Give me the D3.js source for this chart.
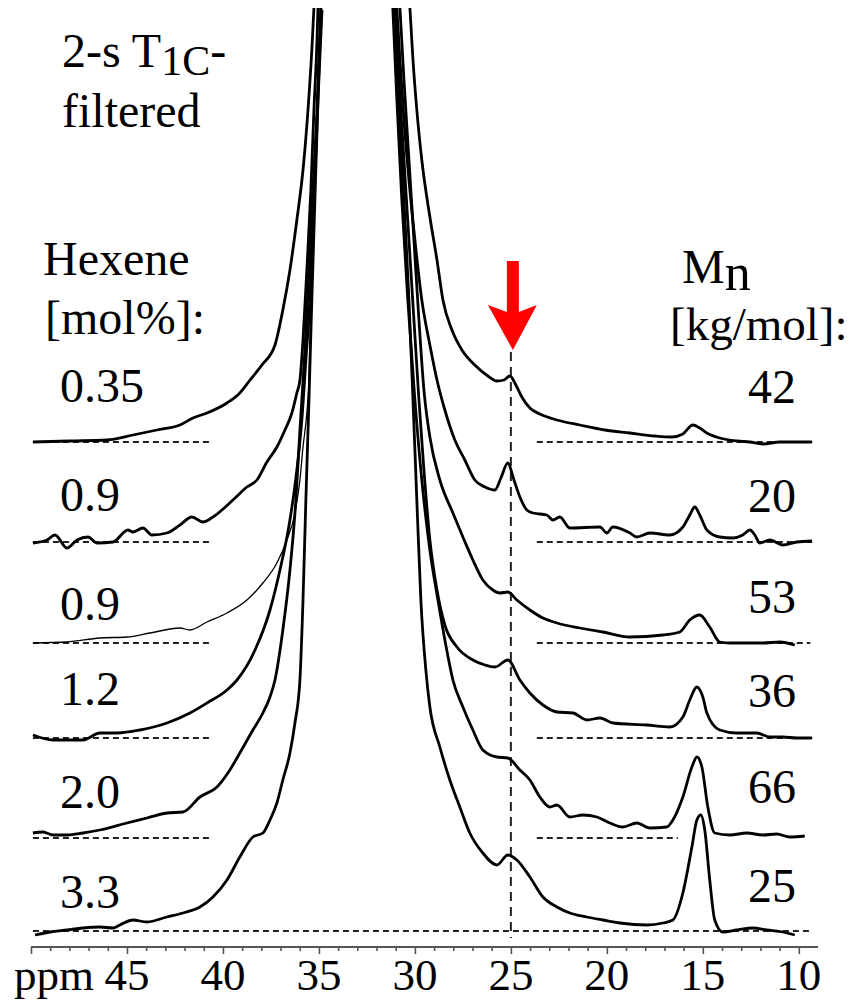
<!DOCTYPE html>
<html>
<head>
<meta charset="utf-8">
<script src="https://cdn.jsdelivr.net/npm/d3@7/dist/d3.min.js"></script>
<style>
  html, body { margin: 0; padding: 0; background: #fff; }
</style>
</head>
<body>
<div id="chart"></div>
<script>
// ---- data: chemical shift (ppm) vs. intensity (a.u.) ----
const hexeneLabels = ["0.35", "0.9", "0.9", "1.2", "2.0", "3.3"];
const mnLabels = ["42", "20", "53", "36", "66", "25"];
const traceOffsets = [489, 389, 288, 193, 93, 0];
const majorTicks = [50, 45, 40, 35, 30, 25, 20, 15, 10];
const tickLabels = [45, 40, 35, 30, 25, 20, 15, 10];
const markerPpm = 25;
const leftBaseRange = [49.9, 40.6];
const rightBaseRanges = [[23.65, 9.3], [23.65, 9.3], [23.65, 9.4], [23.65, 9.3], [23.65, 16.3], [49.9, 9.3]];

const trace1 = [
  [49.90,0],[47.97,1],[46.04,2],[44.69,7],[43.44,12],[42.24,17],[41.56,24],[40.83,29],[39.79,39],
  [39.12,49],[38.59,62],[37.97,77],[37.29,97],[36.88,132],[36.51,172],[36.15,222],[35.83,272],
  [35.57,332],[35.37,392],[35.26,434],
  [30.26,434],[30.10,382],[29.90,332],[29.64,282],[29.22,225],[28.85,182],[28.54,142],[28.07,112],
  [27.55,92],[26.88,77],[26.20,66],[25.73,61],[25.36,62],[25.05,66],[24.74,57],[24.43,45],[24.01,34],
  [23.49,28],[22.60,22],[21.41,17],[20.10,12],[18.80,9],[17.50,6],[16.61,5],[16.04,8],[15.52,17],
  [15.16,14],[14.79,9],[14.12,4],[13.23,1],[12.55,0],[11.88,-2],[10.99,0],[10.21,0],[9.32,0]
];
const trace2 = [
  [49.90,-1],[49.17,2],[48.75,7],[48.13,-6],[47.60,2],[47.03,5],[46.56,-1],[45.73,0],[44.95,12],
  [44.69,10],[44.17,14],[43.70,7],[42.92,9],[42.24,17],[41.62,25],[41.04,20],[40.52,25],[39.48,42],
  [38.75,55],[38.23,62],[37.71,80],[37.19,95],[36.77,112],[36.41,129],[36.15,149],[35.99,162],
  [35.83,202],[35.63,272],[35.42,352],[35.26,432],[35.10,502],[35.05,534],
  [30.94,534],[30.78,482],[30.57,422],[30.31,362],[30.00,302],[29.64,242],[29.22,197],[28.85,162],
  [28.44,132],[27.92,102],[27.40,82],[26.88,62],[26.35,55],[25.83,52],[25.52,64],[25.16,79],
  [24.84,62],[24.53,45],[24.17,32],[23.85,29],[23.13,27],[22.81,22],[22.45,25],[21.93,14],[20.36,15],
  [20.00,9],[19.69,15],[18.80,9],[18.44,5],[17.76,9],[16.72,7],[16.04,15],[15.68,27],[15.42,35],
  [15.16,27],[14.79,12],[14.12,5],[13.44,4],[12.92,7],[12.55,12],[12.29,7],[12.03,-1],[11.51,2],
  [10.83,-3],[10.10,0],[9.32,1]
];
const trace3 = [
  [49.90,0],[48.13,1],[46.41,5],[45.00,6],[43.80,10],[42.24,15],[41.72,13],[40.83,21],[39.79,30],
  [38.75,43],[37.92,60],[37.19,80],[36.67,103],[36.25,130],[35.99,163],[35.83,196],[35.63,230],
  [35.52,263],[35.42,343],[35.26,443],[35.10,543],[34.90,635],
  [30.78,635],[30.57,563],[30.31,483],[30.05,403],[29.79,323],[29.53,253],[29.22,206],[28.70,163],
  [28.02,130],[27.50,106],[26.98,83],[26.46,63],[25.94,53],[25.57,50],[25.16,51],[24.69,43],
  [24.01,33],[23.33,25],[22.60,20],[21.41,15],[20.21,11],[18.80,6],[17.08,8],[16.20,11],[15.68,23],
  [15.16,28],[14.64,16],[14.12,1],[13.59,0],[11.88,0],[10.99,1],[10.21,-2]
];
const trace4 = [
  [49.90,3],[48.85,-2],[47.29,-2],[46.41,5],[45.52,5],[44.32,8],[42.92,15],[41.72,25],[40.83,35],
  [39.79,48],[39.27,58],[38.33,88],[37.55,128],[37.03,168],[36.51,218],[36.15,268],[35.89,318],
  [35.68,378],[35.47,438],[35.26,538],[35.05,638],[34.84,728],
  [31.04,730],[30.83,658],[30.57,578],[30.31,498],[30.05,418],[29.79,338],[29.53,268],[29.22,198],
  [28.85,148],[28.44,113],[27.81,91],[26.98,78],[26.35,73],[25.83,71],[25.16,78],[24.53,58],
  [24.01,45],[23.33,33],[22.60,26],[21.77,25],[21.04,18],[20.36,20],[19.69,15],[17.92,13],[16.72,11],
  [16.04,21],[15.68,38],[15.31,51],[15.00,41],[14.79,25],[14.12,8],[13.23,5],[12.19,5],[11.51,1],
  [10.83,1],[10.10,0],[9.32,0]
];
const trace5 = [
  [49.90,5],[49.38,6],[48.85,3],[48.13,3],[47.29,5],[46.41,8],[45.00,15],[43.96,20],[42.92,25],
  [42.08,26],[41.20,41],[40.31,51],[39.64,68],[39.12,85],[38.44,108],[37.92,125],[37.55,141],
  [37.29,158],[36.88,208],[36.51,268],[36.20,338],[35.99,408],[35.73,488],[35.52,568],[35.31,648],
  [35.10,728],[34.90,830],
  [31.15,830],[30.94,738],[30.68,638],[30.37,538],[30.00,438],[29.64,358],[29.22,288],[28.80,238],
  [28.39,193],[28.02,158],[27.50,131],[26.98,108],[26.46,88],[25.73,81],[25.16,80],[24.53,68],
  [24.01,58],[23.49,41],[22.97,31],[22.60,33],[21.93,21],[21.25,23],[20.52,21],[19.84,15],[19.17,11],
  [18.44,15],[17.76,10],[16.88,11],[16.56,18],[16.04,41],[15.57,71],[15.31,81],[15.05,71],[14.74,31],
  [14.38,5],[13.59,3],[12.71,5],[11.88,3],[11.15,4],[10.47,1],[9.69,2]
];
const trace6 = [
  [49.79,-4],[49.01,-1],[48.13,1],[47.29,3],[46.41,4],[45.73,3],[45.37,6],[44.69,11],[43.96,9],
  [42.92,14],[42.08,18],[41.20,24],[40.52,34],[39.79,51],[39.12,74],[38.44,94],[37.92,98],[37.55,111],
  [37.19,128],[36.88,151],[36.51,178],[36.25,208],[35.99,251],[35.83,331],[35.68,431],[35.52,531],
  [35.37,631],[35.21,731],[35.05,831],[34.90,923],
  [31.04,923],[30.83,831],[30.57,731],[30.31,631],[30.10,531],[29.90,431],[29.69,331],[29.43,261],
  [29.22,224],[28.70,184],[28.18,151],[27.66,124],[27.14,98],[26.46,78],[25.73,66],[25.16,76],
  [24.69,71],[24.01,54],[23.33,34],[22.60,24],[21.93,18],[21.04,14],[20.21,11],[19.32,8],[17.92,6],
  [17.08,8],[16.56,11],[16.04,38],[15.57,84],[15.31,111],[15.10,116],[14.90,101],[14.64,51],
  [14.38,11],[13.96,-1],[13.23,1],[12.40,3],[11.67,1],[10.83,-1],[10.21,-4]
];
const traces = [trace1, trace2, trace3, trace4, trace5, trace6];

// ---- layout ----
const width = 856, height = 1002;
const axisY = 947;
const fontFamily = "'Liberation Serif', 'DejaVu Serif', 'Times New Roman', serif";
// [left wing, right wing] line widths
const strokeWidths = [[2.8, 2.8], [2.8, 2.8], [1.3, 2.8], [2.8, 2.8], [2.8, 2.8], [2.8, 2.8]];
const leftLabelLift = [40, 31, 23, 33, 30, 23];
const rightLabelLift = [39, 30, 30, 31, 35, 29];

const xScale = d3.scaleLinear().domain([50, 9]).range([31, 818]);
const yScale = d3.scaleLinear().domain([0, 931]).range([931, 0]);

const svg = d3.select("#chart")
  .append("svg")
    .attr("width", width)
    .attr("height", height)
    .attr("viewBox", [0, 0, width, height])
    .attr("font-family", fontFamily);

/*******************************/
/*    baselines + marker line  */
/*******************************/
const baseG = svg.append("g")
  .attr("stroke", "#222")
  .attr("stroke-width", 2)
  .attr("stroke-dasharray", "6,4")
  .attr("fill", "none");

traces.forEach((t, i) => {
  const y = yScale(traceOffsets[i]);
  if (i < traces.length - 1) {
    baseG.append("line")
      .attr("x1", xScale(leftBaseRange[0])).attr("x2", xScale(leftBaseRange[1]))
      .attr("y1", y).attr("y2", y);
  }
  baseG.append("line")
    .attr("x1", xScale(rightBaseRanges[i][0])).attr("x2", xScale(rightBaseRanges[i][1]))
    .attr("y1", y).attr("y2", y);
});

svg.append("line")
  .attr("x1", xScale(markerPpm)).attr("x2", xScale(markerPpm))
  .attr("y1", 352).attr("y2", 938)
  .attr("stroke", "#222")
  .attr("stroke-width", 2)
  .attr("stroke-dasharray", "9,6");

/*******************************/
/*    spectra                  */
/*******************************/
const line = d3.line()
  .x(d => xScale(d[0]))
  .y(d => d[1])
  .curve(d3.curveMonotoneX);

traces.forEach((t, i) => {
  const pts = t.map(d => [d[0], yScale(traceOffsets[i] + d[1])]);
  // the main peak runs off the top, so each spectrum is drawn as two wings
  const wings = [pts.filter(d => d[0] > 33), pts.filter(d => d[0] < 33)];
  wings.forEach((w, k) => {
    svg.append("path")
      .datum(w)
      .attr("d", line)
      .attr("fill", "none")
      .attr("stroke", "#000")
      .attr("stroke-width", strokeWidths[i][k])
      .attr("stroke-linejoin", "round")
      .attr("stroke-linecap", "butt");
  });
});

/*******************************/
/*    axis                     */
/*******************************/
const minorTicks = d3.range(10, 51).filter(v => v % 5 !== 0);

const axisG = svg.append("g").attr("transform", `translate(0, ${axisY})`);
axisG.append("g")
  .call(d3.axisBottom(xScale).tickValues(minorTicks).tickSize(4).tickFormat("").tickSizeOuter(0))
  .call(g => g.select(".domain").remove());
axisG.append("g")
  .call(d3.axisBottom(xScale).tickValues(majorTicks).tickSize(7).tickFormat("").tickSizeOuter(0));
axisG.selectAll("line, path")
  .attr("stroke", "#555")
  .attr("stroke-width", 1.6);
axisG.select(".domain")
  .attr("d", `M${xScale(50)},0H${xScale(9)}`)
  .attr("stroke-width", 2.2);

axisG.selectAll(".tick-label")
  .data(tickLabels)
  .join("text")
    .attr("class", "tick-label")
    .attr("x", d => xScale(d))
    .attr("y", 43)
    .attr("text-anchor", "middle")
    .attr("font-size", 45)
    .text(d => d);

axisG.append("text")
  .attr("x", 14)
  .attr("y", 43)
  .attr("font-size", 45)
  .text("ppm");

/*******************************/
/*    labels                   */
/*******************************/
const title = svg.append("text")
  .attr("x", 62).attr("y", 67)
  .attr("font-size", 48);
title.append("tspan").text("2-s T");
title.append("tspan").attr("font-size", 42).attr("dy", 8).text("1C");
title.append("tspan").attr("dy", -8).text("-");

svg.append("text").attr("x", 62).attr("y", 127).attr("font-size", 48).text("filtered");
svg.append("text").attr("x", 43).attr("y", 275).attr("font-size", 48).text("Hexene");
svg.append("text").attr("x", 45).attr("y", 334).attr("font-size", 48).text("[mol%]:");

const mnText = svg.append("text")
  .attr("x", 682).attr("y", 283)
  .attr("font-size", 48);
mnText.append("tspan").text("M");
mnText.append("tspan").attr("font-size", 52).attr("dy", 7).text("n");
svg.append("text").attr("x", 670).attr("y", 340).attr("font-size", 47).text("[kg/mol]:");

svg.selectAll(".hex-label")
  .data(hexeneLabels)
  .join("text")
    .attr("class", "hex-label")
    .attr("x", 60)
    .attr("y", (d, i) => yScale(traceOffsets[i]) - leftLabelLift[i])
    .attr("font-size", 48)
    .text(d => d);

svg.selectAll(".mn-label")
  .data(mnLabels)
  .join("text")
    .attr("class", "mn-label")
    .attr("x", 748)
    .attr("y", (d, i) => yScale(traceOffsets[i]) - rightLabelLift[i])
    .attr("font-size", 48)
    .text(d => d);

/*******************************/
/*    red arrow                */
/*******************************/
const ax = xScale(markerPpm) + 2;
svg.append("path")
  .attr("d", `M${ax - 6},261 L${ax + 6},261 L${ax + 6},312 L${ax + 24},305 L${ax},350 L${ax - 25},305 L${ax - 6},312 Z`)
  .attr("fill", "#ff0000");
</script>
</body>
</html>
